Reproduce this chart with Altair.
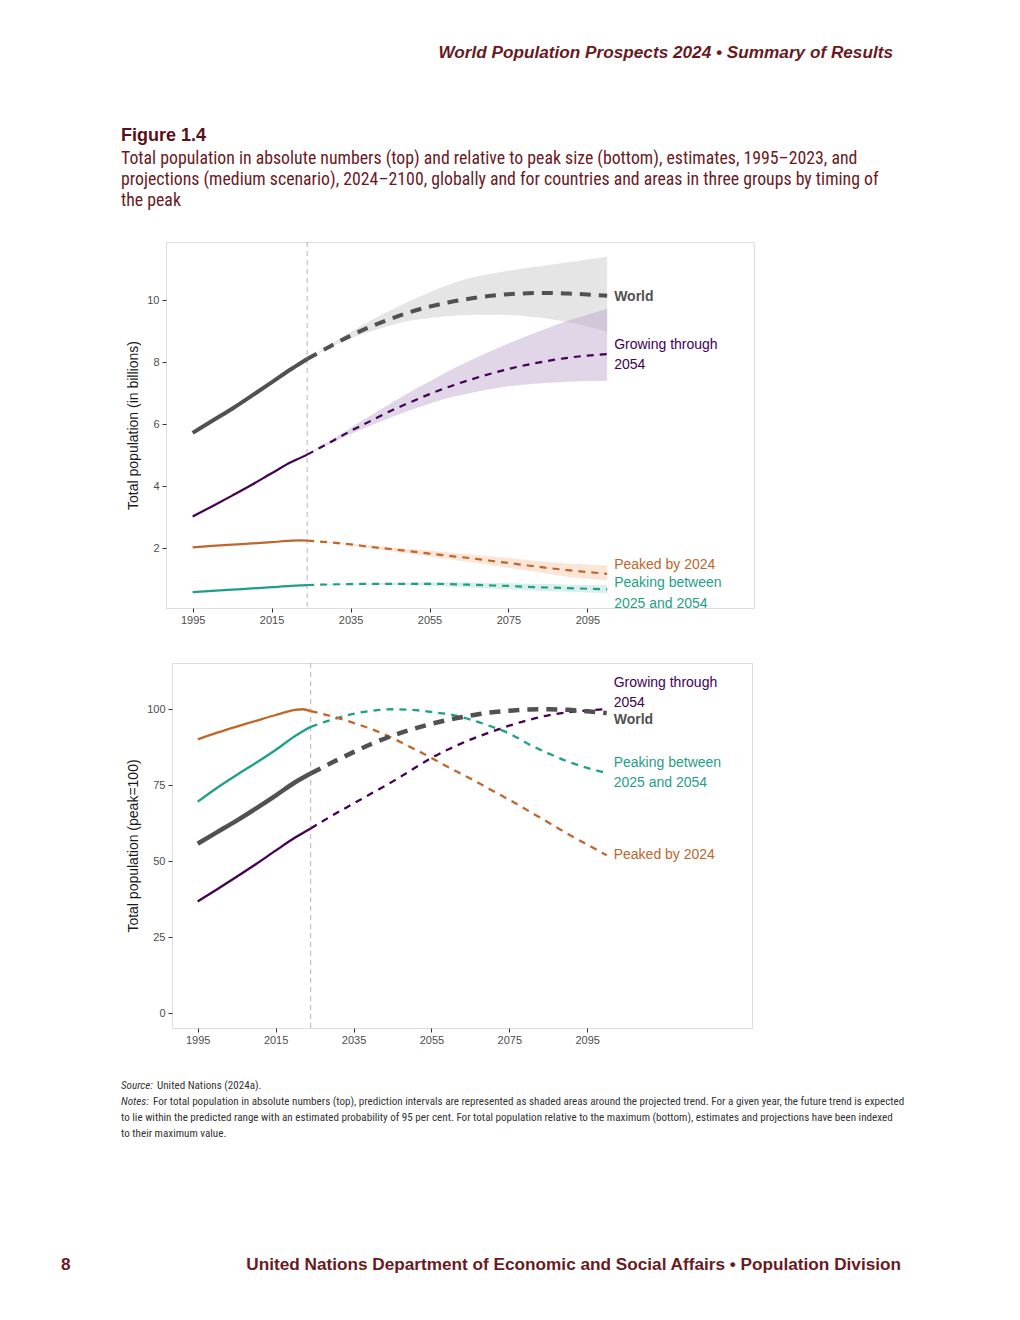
import altair as alt
import pandas as pd

# ---------------- data ----------------
YEARS_EST = [1995, 2000, 2005, 2010, 2015, 2020, 2022, 2024]
YEARS_PROJ = [2024, 2030, 2035, 2040, 2045, 2050, 2055, 2060, 2065, 2070,
              2075, 2080, 2085, 2090, 2095, 2100]
GROUPS = ["World", "Growing through 2054", "Peaked by 2024",
          "Peaking between 2025 and 2054"]

# top panel: billions
ABS_EST = {
    "World": [5.72, 6.11, 6.50, 6.92, 7.35, 7.78, 7.94, 8.10],
    "Growing through 2054": [3.03, 3.36, 3.70, 4.05, 4.42, 4.78, 4.90, 5.02],
    "Peaked by 2024": [2.03, 2.08, 2.12, 2.16, 2.20, 2.25, 2.26, 2.25],
    "Peaking between 2025 and 2054": [0.59, 0.63, 0.67, 0.71, 0.75, 0.79, 0.81, 0.82],
}
ABS_PROJ = {
    "World": [8.10, 8.52, 8.85, 9.14, 9.39, 9.61, 9.79, 9.93, 10.04, 10.13,
              10.19, 10.22, 10.23, 10.21, 10.18, 10.14],
    "Growing through 2054": [5.02, 5.43, 5.78, 6.10, 6.42, 6.70, 6.97, 7.21, 7.42, 7.61,
                             7.78, 7.92, 8.04, 8.14, 8.21, 8.26],
    "Peaked by 2024": [2.25, 2.19, 2.13, 2.05, 1.98, 1.91, 1.83, 1.76, 1.69, 1.61,
                       1.53, 1.45, 1.37, 1.30, 1.24, 1.18],
    "Peaking between 2025 and 2054": [0.82, 0.84, 0.85, 0.86, 0.86, 0.86, 0.86, 0.85, 0.83, 0.81,
                                      0.79, 0.76, 0.74, 0.72, 0.70, 0.68],
}
ABS_LO = {
    "World": [8.10, 8.49, 8.77, 8.98, 9.18, 9.33, 9.42, 9.49, 9.52, 9.53,
              9.52, 9.47, 9.40, 9.29, 9.15, 8.98],
    "Growing through 2054": [5.02, 5.38, 5.68, 5.95, 6.21, 6.45, 6.66, 6.85, 7.00, 7.12,
                             7.22, 7.29, 7.34, 7.37, 7.39, 7.40],
    "Peaked by 2024": [2.25, 2.17, 2.10, 2.00, 1.92, 1.83, 1.74, 1.65, 1.57, 1.47,
                       1.38, 1.28, 1.18, 1.09, 1.02, 0.97],
    "Peaking between 2025 and 2054": [0.82, 0.83, 0.83, 0.83, 0.82, 0.81, 0.79, 0.77, 0.74, 0.71,
                                      0.68, 0.65, 0.62, 0.60, 0.58, 0.56],
}
ABS_HI = {
    "World": [8.10, 8.58, 8.97, 9.33, 9.66, 9.97, 10.25, 10.50, 10.70, 10.83,
              10.94, 11.04, 11.13, 11.22, 11.31, 11.40],
    "Growing through 2054": [5.02, 5.48, 5.88, 6.27, 6.66, 7.03, 7.38, 7.72, 8.04, 8.33,
                             8.60, 8.86, 9.10, 9.33, 9.53, 9.72],
    "Peaked by 2024": [2.25, 2.21, 2.16, 2.10, 2.04, 1.99, 1.93, 1.87, 1.81, 1.75,
                       1.69, 1.62, 1.56, 1.51, 1.48, 1.45],
    "Peaking between 2025 and 2054": [0.82, 0.85, 0.87, 0.88, 0.89, 0.90, 0.91, 0.91, 0.90, 0.89,
                                      0.88, 0.86, 0.85, 0.83, 0.82, 0.81],
}

# bottom panel: peak = 100
REL_EST = {
    "World": [55.8, 59.6, 63.4, 67.4, 71.6, 76.0, 77.5, 78.9],
    "Growing through 2054": [36.8, 40.8, 44.9, 49.1, 53.5, 57.8, 59.3, 60.8],
    "Peaked by 2024": [90.1, 92.3, 94.3, 96.2, 98.1, 99.8, 100.0, 99.4],
    "Peaking between 2025 and 2054": [69.6, 74.2, 78.4, 82.4, 86.6, 91.2, 92.8, 94.2],
}
REL_PROJ = {
    "World": [78.9, 82.8, 85.9, 88.8, 91.3, 93.4, 95.2, 96.7, 97.9, 98.9,
              99.5, 99.9, 100.0, 99.8, 99.3, 98.7],
    "Growing through 2054": [60.8, 65.4, 69.0, 72.6, 76.2, 80.1, 84.0, 87.2, 90.0, 92.4,
                             94.6, 96.5, 98.0, 99.0, 99.6, 100.0],
    "Peaked by 2024": [99.4, 97.5, 95.5, 93.3, 90.5, 87.3, 84.0, 80.5, 77.2, 73.7,
                       70.2, 66.5, 62.8, 59.0, 55.5, 52.0],
    "Peaking between 2025 and 2054": [94.2, 96.8, 98.5, 99.5, 100.0, 99.8, 99.1, 98.2, 96.6, 94.5,
                                      92.0, 88.5, 85.5, 82.8, 80.7, 79.0],
}

VLINE_YEAR = [2024]
X_TICKS = [1995, 2015, 2035, 2055, 2075, 2095]
Y_TICKS_TOP = [2, 4, 6, 8, 10]
Y_TICKS_BOTTOM = [0, 25, 50, 75, 100]

# direct labels: (text, y-position in data units, group, bold)
TOP_LABELS = [("World", 10.10, "World", True),
              ("Growing through", 8.55, "Growing through 2054", False),
              ("2054", 7.91, "Growing through 2054", False),
              ("Peaked by 2024", 1.46, "Peaked by 2024", False),
              ("Peaking between", 0.88, "Peaking between 2025 and 2054", False),
              ("2025 and 2054", 0.21, "Peaking between 2025 and 2054", False)]
BOTTOM_LABELS = [("Growing through", 108.6, "Growing through 2054", False),
                 ("2054", 102.1, "Growing through 2054", False),
                 ("World", 96.5, "World", True),
                 ("Peaking between", 82.3, "Peaking between 2025 and 2054", False),
                 ("2025 and 2054", 75.7, "Peaking between 2025 and 2054", False),
                 ("Peaked by 2024", 52.1, "Peaked by 2024", False)]
LABEL_YEAR = 2100

HEADER = "World Population Prospects 2024 \u2022 Summary of Results"
FIG_NO = "Figure 1.4"
SUBTITLE = ["Total population in absolute numbers (top) and relative to peak size (bottom), estimates, 1995\u20132023, and",
            "projections (medium scenario), 2024\u20132100, globally and for countries and areas in three groups by timing of",
            "the peak"]
NOTE_LINES = [
    ("Source:", "United Nations (2024a)."),
    ("Notes:", "For total population in absolute numbers (top), prediction intervals are represented as shaded areas around the projected trend. For a given year, the future trend is expected"),
    ("", "to lie within the predicted range with an estimated probability of 95 per cent. For total population relative to the maximum (bottom), estimates and projections have been indexed"),
    ("", "to their maximum value."),
]
FOOTER_PAGE = "8"
FOOTER = "United Nations Department of Economic and Social Affairs \u2022 Population Division"

# ---------------- styles ----------------
FONT = "Liberation Sans"
NARROW = "Roboto Condensed, DejaVu Sans Condensed, Liberation Sans Narrow, Arial Narrow, Liberation Sans"
MAROON = "#6a1a1f"
DARK_MAROON = "#5a1018"
LINE_COL = {"World": "#515151", "Growing through 2054": "#440154",
            "Peaked by 2024": "#c0662b", "Peaking between 2025 and 2054": "#1f9e89"}
BAND_COL = {"World": "#cfcfcf", "Growing through 2054": "#b89cc8",
            "Peaked by 2024": "#f0b48c", "Peaking between 2025 and 2054": "#8fd0c5"}
BAND_OP = {"World": 0.55, "Growing through 2054": 0.42,
           "Peaked by 2024": 0.35, "Peaking between 2025 and 2054": 0.35}


def frame(years, values):
    return pd.DataFrame({"year": years, "value": values})


def text_layer(s, x, y, size, color, weight="normal", style="normal",
               align="left", baseline="middle", font=FONT):
    return alt.Chart(pd.DataFrame({"t": [s]})).mark_text(
        align=align, baseline=baseline, fontSize=size, font=font,
        fontWeight=weight, fontStyle=style, color=color
    ).encode(x=alt.value(x), y=alt.value(y), text="t:N")


def panel(est, proj, lo, hi, labels, xdom, ydom, yticks, ytitle, width, height,
          world_w, other_w, extra):
    xs = alt.Scale(domain=xdom, nice=False, zero=False)
    ys = alt.Scale(domain=ydom, nice=False, zero=False)
    xax = alt.Axis(values=X_TICKS, format="d", grid=False, domain=False,
                   tickSize=4, tickColor="#333333", labelPadding=2,
                   labelFontSize=11, labelColor="#4d4d4d", labelFont=FONT)
    yax = alt.Axis(values=yticks, grid=False, domain=False, tickSize=4,
                   tickColor="#333333", labelPadding=3, labelFontSize=11,
                   labelColor="#4d4d4d", labelFont=FONT, title=ytitle,
                   titleFontSize=14, titleFont=FONT, titleFontWeight="normal",
                   titleColor="#1a1a1a", titlePadding=6)

    def X():
        return alt.X("year:Q", scale=xs, axis=xax, title=None)

    def Y(field="value"):
        return alt.Y(f"{field}:Q", scale=ys, axis=yax, title=ytitle)

    layers = []
    if lo is not None:
        for g in GROUPS:
            d = pd.DataFrame({"year": YEARS_PROJ, "lo": lo[g], "hi": hi[g]})
            layers.append(alt.Chart(d).mark_area(
                color=BAND_COL[g], opacity=BAND_OP[g], interpolate="monotone"
            ).encode(x=X(), y=Y("lo"), y2="hi:Q"))
    layers.append(alt.Chart(pd.DataFrame({"year": VLINE_YEAR})).mark_rule(
        color="#b5b5b5", strokeDash=[5, 4], strokeWidth=1).encode(x=X()))
    order = ["Peaking between 2025 and 2054", "Peaked by 2024",
             "Growing through 2054", "World"]
    for g in order:
        w = world_w if g == "World" else other_w
        dash = [11, 8] if g == "World" else [7, 6]
        layers.append(alt.Chart(frame(YEARS_EST, est[g])).mark_line(
            color=LINE_COL[g], strokeWidth=w, interpolate="monotone"
        ).encode(x=X(), y=Y()))
        layers.append(alt.Chart(frame(YEARS_PROJ, proj[g])).mark_line(
            color=LINE_COL[g], strokeWidth=w, strokeDash=dash, interpolate="monotone"
        ).encode(x=X(), y=Y()))
    for bold in (False, True):
        rows = [(t, v, LINE_COL[g]) for t, v, g, b in labels if b == bold]
        d = pd.DataFrame({"year": [LABEL_YEAR] * len(rows),
                          "value": [r[1] for r in rows],
                          "t": [r[0] for r in rows],
                          "c": [r[2] for r in rows]})
        layers.append(alt.Chart(d).mark_text(
            align="left", baseline="middle", dx=7, fontSize=14, font=FONT,
            fontWeight="bold" if bold else "normal"
        ).encode(x=X(), y=Y(), text="t:N", color=alt.Color("c:N", scale=None)))
    layers += extra
    return alt.layer(*layers).properties(width=width, height=height)


def spacer(w):
    return alt.Chart(pd.DataFrame({"a": [0]})).mark_point(opacity=0, size=1).encode(
        x=alt.value(w / 2), y=alt.value(0.5)
    ).properties(width=w, height=1,
                 view=alt.ViewBackground(strokeOpacity=0, strokeWidth=0))


# ---- top panel: plot origin at page (166, 242) ----
top_extra = [text_layer(HEADER, 727, -198, 17.2, MAROON, weight="bold",
                        style="italic", align="right", baseline="top"),
             text_layer(FIG_NO, -45, -106, 18, DARK_MAROON, weight="bold")]
for i, line in enumerate(SUBTITLE):
    top_extra.append(text_layer(line, -45, -83 + 21 * i, 17.8, MAROON, font=NARROW))

top = panel(ABS_EST, ABS_PROJ, ABS_LO, ABS_HI, TOP_LABELS,
            [1988.25, 2137.2], [0.08, 11.87], Y_TICKS_TOP,
            "Total population (in billions)", 588, 366, 4, 2.2, top_extra)

# ---- bottom panel: plot origin at page (172, 663) ----
bot_extra = []
for i, (lead, rest) in enumerate(NOTE_LINES):
    y = 423 + 16 * i
    if lead:
        bot_extra.append(text_layer(lead, -51, y, 11.1, "#333333", style="italic", font=NARROW))
        bot_extra.append(text_layer(rest, -15 if lead == "Source:" else -19, y, 11.1,
                                    "#333333", font=NARROW))
    else:
        bot_extra.append(text_layer(rest, -51, y, 11.1, "#333333", font=NARROW))
bot_extra.append(text_layer(FOOTER_PAGE, -111, 602, 17.2, MAROON, weight="bold"))
bot_extra.append(text_layer(FOOTER, 729, 602, 17.2, MAROON, weight="bold",
                            align="right"))

bottom = panel(REL_EST, REL_PROJ, None, None, BOTTOM_LABELS,
               [1988.4, 2137.3], [-4.8, 115.2], Y_TICKS_BOTTOM,
               "Total population (peak=100)", 580, 365, 4.5, 2.3, bot_extra)

row_top = alt.hconcat(spacer(112), top, spacing=0)
row_bot = alt.hconcat(spacer(52), bottom, spacing=0)

chart = alt.vconcat(row_top, row_bot, spacing=36).properties(
    padding={"left": 0, "top": 35, "right": 4, "bottom": 4},
    background="white"
).configure_view(stroke="#c6c6c6", strokeWidth=1.3).configure(font=FONT)

chart.save("out.html", embed_options={"renderer": "svg", "actions": False})
